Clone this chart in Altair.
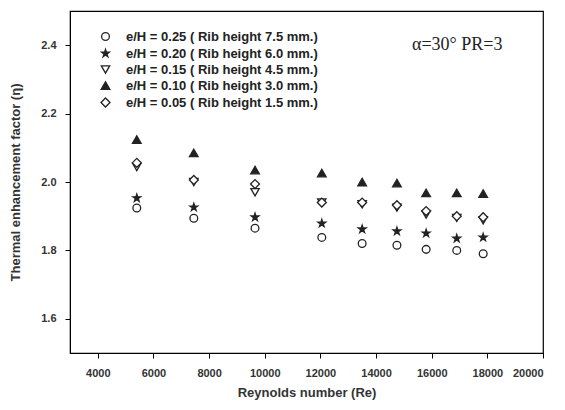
import altair as alt
import pandas as pd

# Reynolds numbers tested
reynolds = [5400, 7450, 9650, 12050, 13500, 14750, 15800, 16900, 17850]

# Series labels (rib height ratio e/H)
series = [
    "e/H = 0.25 ( Rib height 7.5 mm.)",
    "e/H = 0.20 ( Rib height 6.0 mm.)",
    "e/H = 0.15 ( Rib height 4.5 mm.)",
    "e/H = 0.10 ( Rib height 3.0 mm.)",
    "e/H = 0.05 ( Rib height 1.5 mm.)",
]

# Thermal enhancement factor for each series
eta_025 = [1.924, 1.894, 1.865, 1.838, 1.820, 1.815, 1.803, 1.800, 1.790]
eta_020 = [1.953, 1.926, 1.897, 1.879, 1.862, 1.856, 1.850, 1.835, 1.838]
eta_015 = [2.044, 2.000, 1.970, 1.940, 1.935, 1.925, 1.905, 1.895, 1.888]
eta_010 = [2.124, 2.085, 2.035, 2.026, 2.000, 1.997, 1.968, 1.968, 1.966]
eta_005 = [2.056, 2.006, 1.994, 1.940, 1.940, 1.932, 1.915, 1.900, 1.897]

values = [eta_025, eta_020, eta_015, eta_010, eta_005]

rows = []
for name, vals in zip(series, values):
    for re, v in zip(reynolds, vals):
        rows.append({"Re": re, "eta": v, "series": name})
df = pd.DataFrame(rows)

star = ("M0,-1L0.2245,-0.309L0.951,-0.309L0.363,0.118L0.588,0.809L0,0.382"
        "L-0.588,0.809L-0.363,0.118L-0.951,-0.309L-0.2245,-0.309Z")
shapes = ["circle", star, "triangle-down", "triangle-up", "diamond"]
fills = ["white", "#222222", "white", "#222222", "white"]
sizes = [60, 80, 60, 70, 60]

ink = "#222222"

legend = alt.Legend(title=None, orient="none", legendX=29, legendY=19,
                    labelFontSize=13, labelFont="Liberation Sans", labelFontWeight="bold",
                    labelColor=ink, rowPadding=2, symbolStrokeWidth=1.3,
                    labelOffset=14, labelLimit=400)

points = alt.Chart(df).mark_point(filled=True, strokeWidth=1.3, opacity=1).encode(
    x=alt.X("Re:Q", scale=alt.Scale(domain=[3000, 20000], nice=False, zero=False),
            axis=alt.Axis(values=list(range(4000, 20001, 2000)), title="Reynolds number (Re)",
                          format="d")),
    y=alt.Y("eta:Q", scale=alt.Scale(domain=[1.5, 2.5], nice=False, zero=False),
            axis=alt.Axis(values=[1.6, 1.8, 2.0, 2.2, 2.4], format=".1f",
                          title="Thermal enhancement factor (η)")),
    shape=alt.Shape("series:N", scale=alt.Scale(domain=series, range=shapes), legend=legend),
    fill=alt.Fill("series:N", scale=alt.Scale(domain=series, range=fills), legend=legend),
    stroke=alt.Stroke("series:N", scale=alt.Scale(domain=series, range=[ink] * 5), legend=legend),
    size=alt.Size("series:N", scale=alt.Scale(domain=series, range=sizes), legend=legend),
)

note = alt.Chart(pd.DataFrame({"t": ["α=30° PR=3"]})).mark_text(
    font="Liberation Serif", fontSize=18, color=ink, align="left", baseline="middle"
).encode(x=alt.value(342), y=alt.value(34), text="t:N")

chart = (points + note).properties(
    width=473, height=342, autosize="none",
    padding={"left": 70, "top": 11, "right": 22, "bottom": 57},
).configure_view(stroke="black", strokeWidth=1.2).configure_axis(
    domainColor="black", tickColor="black", tickSize=5, grid=False,
    labelFont="Liberation Sans", labelFontWeight="bold", labelFontSize=11, labelColor="#333333",
    titleFont="Liberation Sans", titleFontWeight="bold", titleFontSize=13, titleColor="#333333",
).configure_axisX(labelPadding=9, titlePadding=8).configure_axisY(labelPadding=9, titlePadding=18)

chart.save("out.html", embed_options={"renderer": "svg", "actions": False})
